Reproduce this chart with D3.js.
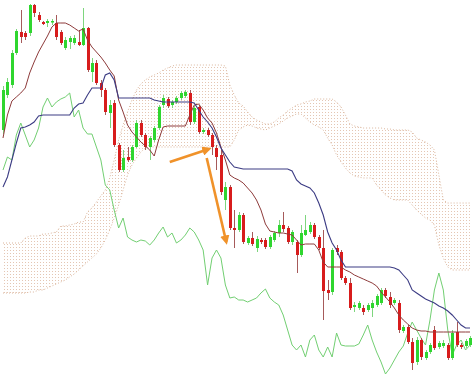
<!DOCTYPE html>
<html><head><meta charset="utf-8">
<script src="https://cdn.jsdelivr.net/npm/d3@7"></script>
<style>html,body{margin:0;padding:0;background:#fff;overflow:hidden}</style>
</head><body><svg id="c" width="474" height="382"></svg>
<script>
// ---- data (price units) ----
const opens = [270,305,315,347,368,367,367,395,385,378,
377,378,377,368,352,358,357,358,355,372,
328,337,317,310,287,297,255,230,243,240,
253,277,265,253,260,272,295,301,295,298,
302,304,307,278,293,268,270,265,252,245,
200,213,172,170,185,157,162,152,160,160,
153,160,167,175,172,158,158,145,165,168,
175,163,152,110,108,152,148,122,117,93,
92,92,90,92,95,97,110,103,97,97,
69,73,58,38,60,42,48,70,53,54,
55,42,68,55,54,55];
const closes = [310,318,347,369,363,363,395,387,380,376,
379,379,363,357,360,362,362,355,372,330,
337,317,310,288,295,255,230,242,240,253,
277,265,253,262,272,293,302,294,298,302,
307,308,278,292,268,270,265,253,243,208,
213,172,170,185,158,162,156,161,158,153,
163,167,175,171,158,168,145,167,170,175,
163,152,109,107,150,148,122,117,92,95,
97,88,95,97,104,110,104,95,100,70,
73,58,37,60,43,48,55,52,57,57,
42,67,55,53,59,62];
const highs = [314,322,350,371,390,369,396,396,388,379,
381,381,385,370,363,364,365,370,392,373,
342,340,320,312,300,300,257,250,253,255,
280,280,267,264,274,295,305,303,300,304,
309,310,310,294,295,272,272,267,255,250,
218,215,190,188,187,164,168,164,162,162,
165,169,180,188,174,170,160,175,185,178,
177,165,170,120,152,155,150,124,122,98,
99,95,97,100,106,112,112,108,102,100,
75,75,62,63,62,50,57,74,59,60,
57,70,78,57,61,64];
const lows = [266,302,312,345,357,360,364,383,378,375,
373,375,360,355,350,351,355,354,354,328,
318,315,303,285,272,253,228,228,238,238,
252,263,250,240,258,270,292,292,292,296,
300,302,275,276,266,266,263,245,230,205,
190,170,152,168,156,155,154,148,156,151,
151,158,163,168,156,155,127,143,164,166,
161,150,80,100,105,145,120,115,90,88,
90,85,88,83,93,95,102,92,95,67,
67,56,30,35,40,40,46,50,51,52,
40,40,53,51,52,53];
const tenkan = [262,285,299,303,307,312,327,338,348,356,
364,373,377,377,377,375,372,369,371,360,
353,348,343,337,330,324,300,288,275,268,
263,258,254,250,244,260,273,274,274,274,
274,274,285,295,296,290,282,277,267,253,
240,225,222,220,217,212,207,200,190,176,
169,168,167,167,166,165,160,155,156,156,
156,150,138,133,133,133,133,130,128,125,
123,121,119,117,114,108,103,98,92,85,
80,76,72,70,69,69,68,68,68,68,
68,68,68,68,68,68];
const kijun = [213,223,240,257,272,273,275,278,284,285,
285,285,285,285,285,285,292,296,297,305,
312,312,312,325,327,320,302,302,302,302,
302,302,302,302,300,299,298,298,298,298,
298,298,298,297,290,283,278,272,263,252,
245,238,233,232,231,231,231,231,231,231,
231,231,231,231,231,229,220,216,214,212,
207,197,185,168,157,150,140,133,133,133,
133,133,133,133,133,133,133,133,132,130,
125,120,110,107,104,101,99,97,94,92,
89,85,80,75,72,72];
const chikou = [230,243,240,265,277,265,253,260,272,293,
302,293,298,301,303,307,283,290,272,266,
266,253,240,215,210,190,172,182,163,160,
158,160,159,155,160,167,173,163,167,157,
160,165,172,168,160,150,115,142,150,142,
115,102,103,100,100,98,100,102,107,111,
102,98,95,85,70,55,50,55,43,60,
65,50,43,53,43,67,55,54,54,54,
56,65,75,60,48,38,26,32,40,48,
54,67,78,70,62,55,80,110,127,110,
70,45,55,60,50,55];
const spanA = [157,157,157,157,157,162,164,164,164,166,
166,167,168,174,174,175,176,178,178,188,
192,198,204,210,222,240,260,275,288,300,
310,316,320,323,325,327,330,332,334,335,
335,335,335,335,335,335,335,335,335,335,
334,315,305,297,294,288,283,280,278,276,
276,278,282,285,289,292,295,296,298,299,
301,301,301,301,301,298,293,285,276,274,
273,272,272,272,272,272,271,271,270,270,
270,270,268,262,260,258,255,250,225,200,
197,197,197,197,197,197];
const spanB = [107,107,107,107,107,107,108,108,110,110,
112,114,116,118,120,123,126,130,134,138,
142,146,152,160,170,182,195,210,225,235,
242,248,252,253,253,253,253,253,253,253,
253,253,253,253,253,253,253,253,253,253,
253,253,260,270,273,275,274,272,271,270,
272,274,276,279,282,284,286,286,282,278,
275,273,270,262,255,245,238,232,227,224,
223,222,222,222,215,210,205,202,200,200,
200,200,195,190,186,182,180,175,155,142,
133,130,130,130,130,130];
// annotation arrows, in (bar index, price)
const arrows = [
  {x1: 37.5, y1: 238, x2: 46.3, y2: 251},
  {x1: 45.8, y1: 242, x2: 50.2, y2: 158}
];

const W = 474, H = 382;
const bars = d3.range(opens.length);
const x = d3.scaleLinear().domain([0, bars.length - 1]).range([3, 470]);
const y = d3.scaleLinear().domain([18, 400]).range([H, 0]);

const svg = d3.select('#c');
const defs = svg.append('defs');
const pat = defs.append('pattern').attr('id', 'dots')
  .attr('patternUnits', 'userSpaceOnUse').attr('width', 3).attr('height', 3);
pat.append('rect').attr('x', 1).attr('y', 1).attr('width', 1).attr('height', 1)
  .attr('fill', '#d8ae92');
defs.append('marker').attr('id', 'ah').attr('viewBox', '0 0 10 10')
  .attr('refX', 7).attr('refY', 5).attr('markerWidth', 3.6).attr('markerHeight', 3.6)
  .attr('orient', 'auto')
  .append('path').attr('d', 'M0,0L10,5L0,10z').attr('fill', '#f0922a');

// cloud
svg.append('path').datum(bars)
  .attr('d', d3.area().x(i => x(i)).y0(i => y(spanA[i])).y1(i => y(spanB[i])))
  .attr('fill', 'url(#dots)').attr('opacity', 0.7);
[spanA, spanB].forEach(s => {
  svg.append('path').datum(bars)
    .attr('d', d3.line().x(i => x(i)).y(i => y(s[i])))
    .attr('fill', 'none').attr('stroke', '#d2a484').attr('stroke-width', 1)
    .attr('stroke-dasharray', '1,2').attr('opacity', 0.8);
});

// chikou
svg.append('path').datum(bars)
  .attr('d', d3.line().x(i => x(i)).y(i => y(chikou[i])))
  .attr('fill', 'none').attr('stroke', '#72cf72').attr('stroke-width', 1);

// candles
const up = i => closes[i] >= opens[i];
const g = svg.append('g');
g.selectAll('line.w').data(bars).join('line')
  .attr('x1', i => Math.round(x(i)) + 0.5).attr('x2', i => Math.round(x(i)) + 0.5)
  .attr('y1', i => y(highs[i])).attr('y2', i => y(lows[i]))
  .attr('stroke', i => up(i) ? '#7ed67e' : '#a65a5a').attr('stroke-width', 1);
g.selectAll('rect.b').data(bars).join('rect')
  .attr('x', i => Math.round(x(i)) - 1)
  .attr('width', 3)
  .attr('y', i => y(Math.max(opens[i], closes[i])))
  .attr('height', i => Math.max(1.5, Math.abs(y(opens[i]) - y(closes[i]))))
  .attr('fill', i => up(i) ? '#2fd62f' : '#d81c1c');

// tenkan & kijun
svg.append('path').datum(bars)
  .attr('d', d3.line().x(i => x(i)).y(i => y(tenkan[i])))
  .attr('fill', 'none').attr('stroke', '#8e3b3b').attr('stroke-width', 1);
svg.append('path').datum(bars)
  .attr('d', d3.line().x(i => x(i)).y(i => y(kijun[i])))
  .attr('fill', 'none').attr('stroke', '#3c3c84').attr('stroke-width', 1.1);

// arrows
svg.selectAll('line.arrow').data(arrows).join('line')
  .attr('x1', d => x(d.x1)).attr('y1', d => y(d.y1))
  .attr('x2', d => x(d.x2)).attr('y2', d => y(d.y2))
  .attr('stroke', '#f0922a').attr('stroke-width', 2.6)
  .attr('marker-end', 'url(#ah)');
</script></body></html>
